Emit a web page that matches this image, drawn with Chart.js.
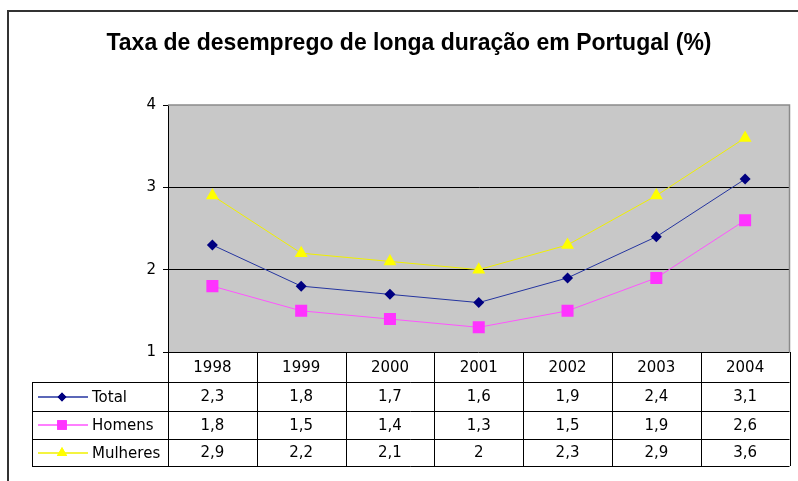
<!DOCTYPE html>
<html>
<head>
<meta charset="utf-8">
<script src="https://cdn.jsdelivr.net/npm/chart.js@4"></script>
<style>
  html, body { margin: 0; padding: 0; background: #fff; }
  #wrap { width: 798px; height: 481px; }
</style>
</head>
<body>
<div id="wrap"><canvas id="myChart" width="798" height="481"></canvas></div>
<script>
// dados
var years = ['1998', '1999', '2000', '2001', '2002', '2003', '2004'];
var total = [2.3, 1.8, 1.7, 1.6, 1.9, 2.4, 3.1];
var homens = [1.8, 1.5, 1.4, 1.3, 1.5, 1.9, 2.6];
var mulheres = [2.9, 2.2, 2.1, 2.0, 2.3, 2.9, 3.6];
var yTicks = [1, 2, 3, 4];
var titulo = 'Taxa de desemprego de longa duração em Portugal (%)';

var series = [
    { label: 'Total', data: total, line: '#2535a0', fill: '#000080', style: 'rectRot', r: 5.5 },
    { label: 'Homens', data: homens, line: '#ff55ff', fill: '#ff33ff', style: 'rect', r: 8.5 },
    { label: 'Mulheres', data: mulheres, line: '#f0f000', fill: '#ffff00', style: 'triangle', r: 7.5 }
];

function fmt(v) {
    return String(v).replace('.', ',');
}

var tableFont = '15px "DejaVu Sans"';

// fundo cinzento da area do grafico
var bgPlugin = {
    id: 'bg',
    beforeDraw: function(chart) {
        var a = chart.chartArea, ctx = chart.ctx;
        ctx.save();
        ctx.fillStyle = '#c8c8c8';
        ctx.fillRect(a.left, a.top, a.right - a.left, a.bottom - a.top);
        ctx.restore();
    }
};

// titulo, moldura e tabela de dados
var tablePlugin = {
    id: 'tabela',
    afterDraw: function(chart) {
        var ctx = chart.ctx, a = chart.chartArea, x = chart.scales.x;
        ctx.save();

        // moldura exterior
        ctx.strokeStyle = '#333';
        ctx.lineWidth = 2;
        ctx.beginPath();
        ctx.moveTo(8, 481);
        ctx.lineTo(8, 11);
        ctx.lineTo(798, 11);
        ctx.stroke();

        // titulo (um pouco condensado, como no original)
        ctx.fillStyle = '#000';
        ctx.font = 'bold 24px "Liberation Sans"';
        ctx.textAlign = 'center';
        ctx.textBaseline = 'alphabetic';
        var tw = ctx.measureText(titulo).width;
        var sx = 605 / tw;
        ctx.save();
        ctx.translate(409, 50);
        ctx.scale(sx, 1);
        ctx.fillText(titulo, 0, 0);
        ctx.restore();

        // borda cinzenta da area
        ctx.strokeStyle = '#8a8a8a';
        ctx.lineWidth = 1.5;
        ctx.beginPath();
        ctx.moveTo(a.left, a.top);
        ctx.lineTo(a.right, a.top);
        ctx.lineTo(a.right, a.bottom);
        ctx.stroke();

        var colW = x.getPixelForValue(1) - x.getPixelForValue(0);
        var top = a.bottom;
        var rows = [top, top + 30, top + 59, top + 87, top + 114];
        var legLeft = 32;

        ctx.lineWidth = 1;
        ctx.strokeStyle = '#000';
        // linhas horizontais
        ctx.beginPath();
        ctx.moveTo(a.left, rows[0] + 0.5); ctx.lineTo(a.right, rows[0] + 0.5);
        for (var r = 1; r < rows.length; r++) {
            ctx.moveTo(legLeft, rows[r] + 0.5);
            ctx.lineTo(a.right, rows[r] + 0.5);
        }
        // linhas verticais
        ctx.moveTo(legLeft + 0.5, rows[1]); ctx.lineTo(legLeft + 0.5, rows[4]);
        for (var i = 0; i <= years.length; i++) {
            var xx = Math.round(x.getPixelForValue(i) - colW / 2) + 0.5;
            ctx.moveTo(xx, rows[0]);
            ctx.lineTo(xx, rows[4]);
        }
        ctx.stroke();

        ctx.font = tableFont;
        ctx.fillStyle = '#000';
        ctx.textAlign = 'center';
        ctx.textBaseline = 'middle';
        for (var j = 0; j < years.length; j++) {
            var cx = x.getPixelForValue(j);
            ctx.fillText(years[j], cx, (rows[0] + rows[1]) / 2 + 1);
            for (var s = 0; s < series.length; s++) {
                ctx.fillText(fmt(series[s].data[j]), cx, (rows[s + 1] + rows[s + 2]) / 2 + 1);
            }
        }

        // legenda dentro da tabela
        for (var k = 0; k < series.length; k++) {
            var sr = series[k];
            var cy = Math.round((rows[k + 1] + rows[k + 2]) / 2);
            ctx.strokeStyle = sr.line;
            ctx.lineWidth = 1.5;
            ctx.beginPath();
            ctx.moveTo(38, cy);
            ctx.lineTo(88, cy);
            ctx.stroke();
            ctx.fillStyle = sr.fill;
            Chart.helpers.drawPoint(ctx, { pointStyle: sr.style, radius: sr.r * 0.8, borderWidth: 0 }, 62, cy);
            ctx.fill();
            ctx.fillStyle = '#000';
            ctx.textAlign = 'left';
            ctx.fillText(sr.label, 92, cy + 1);
        }
        ctx.restore();
    }
};

var datasets = [];
for (var d = 0; d < series.length; d++) {
    datasets.push({
        label: series[d].label,
        data: series[d].data,
        borderColor: series[d].line,
        backgroundColor: series[d].fill,
        borderWidth: 1,
        pointStyle: series[d].style,
        pointRadius: series[d].r,
        pointBorderWidth: 0,
        pointBackgroundColor: series[d].fill,
        tension: 0,
        fill: false
    });
}

new Chart(document.getElementById('myChart'), {
    type: 'line',
    data: { labels: years, datasets: datasets },
    plugins: [bgPlugin, tablePlugin],
    options: {
        responsive: false,
        animation: false,
        layout: { padding: { top: 105, right: 7, bottom: 129, left: 0 } },
        plugins: {
            legend: { display: false },
            title: { display: false },
            tooltip: { enabled: false }
        },
        scales: {
            x: {
                type: 'category',
                offset: true,
                display: false
            },
            y: {
                min: yTicks[0],
                max: yTicks[yTicks.length - 1],
                afterFit: function(scale) { scale.width = 168; },
                afterBuildTicks: function(scale) {
                    scale.ticks = yTicks.map(function(v) { return { value: v }; });
                },
                border: { display: true, color: '#000', width: 1 },
                grid: {
                    color: function(c) {
                        return (c.tick && c.tick.value > yTicks[0] && c.tick.value < yTicks[yTicks.length - 1]) ? '#000' : 'rgba(0,0,0,0)';
                    },
                    tickColor: '#000',
                    tickLength: 5,
                    lineWidth: 1
                },
                ticks: {
                    color: '#000',
                    padding: 7,
                    font: { family: 'DejaVu Sans', size: 15 }
                }
            }
        }
    }
});
</script>
</body>
</html>
